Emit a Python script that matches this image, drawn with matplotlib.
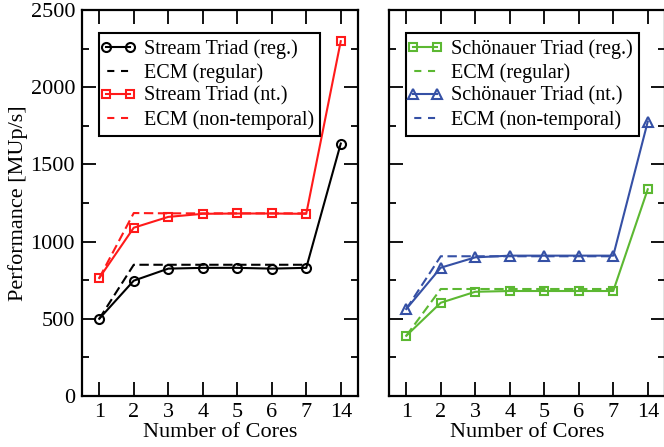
import numpy as np
import matplotlib
matplotlib.use("Agg")
import matplotlib.pyplot as plt
from matplotlib.lines import Line2D
from matplotlib.legend_handler import HandlerLine2D
from matplotlib.ticker import MultipleLocator

plt.rcParams['font.family'] = ['Liberation Serif', 'DejaVu Serif']
plt.rcParams['font.size'] = 16

# data
cores = ['1', '2', '3', '4', '5', '6', '7', '14']

stream_reg = [500, 747, 825, 830, 830, 825, 830, 1635]
ecm_stream_reg = [500, 850, 850, 850, 850, 850, 850]
stream_nt = [764, 1090, 1160, 1180, 1182, 1182, 1180, 2298]
ecm_stream_nt = [764, 1185, 1183, 1183, 1183, 1183, 1183]

schoen_reg = [390, 604, 675, 680, 680, 680, 680, 1339]
ecm_schoen_reg = [390, 693, 693, 693, 693, 693, 693]
schoen_nt = [563, 831, 898, 909, 909, 909, 909, 1777]
ecm_schoen_nt = [563, 905, 905, 905, 905, 905, 905]

red = '#ff1a1a'
green = '#5cb832'
blue = '#3550a5'
dash = (4.5, 2.2)
leg_ls = (6.0, (3.4, 3.2))   # two short dashes in the legend

W, H = 664, 447
fig = plt.figure(figsize=(W / 100, H / 100), dpi=100)
ax1 = fig.add_axes([82 / W, 1 - 396 / H, 276 / W, 386 / H])
ax2 = fig.add_axes([389 / W, 1 - 396 / H, 276 / W, 386 / H])

xs = np.arange(len(cores))
xe = np.arange(len(ecm_stream_reg))

h1 = ax1.plot(xs, stream_reg, '-o', color='black', lw=1.5, ms=6.5, mfc='none', mew=1.5)[0]
ax1.plot(xe, ecm_stream_reg, '--', color='black', lw=1.5, dashes=dash)
h3 = ax1.plot(xs, stream_nt, '-s', color=red, lw=1.5, ms=5.5, mfc='none', mew=1.5)[0]
ax1.plot(xe, ecm_stream_nt, '--', color=red, lw=1.5, dashes=dash)

g1 = ax2.plot(xs, schoen_reg, '-s', color=green, lw=1.5, ms=5.5, mfc='none', mew=1.5)[0]
ax2.plot(xe, ecm_schoen_reg, '--', color=green, lw=1.5, dashes=dash)
g3 = ax2.plot(xs, schoen_nt, '-^', color=blue, lw=1.5, ms=6.5, mfc='none', mew=1.5)[0]
ax2.plot(xe, ecm_schoen_nt, '--', color=blue, lw=1.5, dashes=dash)

legs = [
    (ax1, [h1, Line2D([], [], color='black', lw=1.5, ls=leg_ls),
           h3, Line2D([], [], color=red, lw=1.5, ls=leg_ls)],
     ['Stream Triad (reg.)', 'ECM (regular)', 'Stream Triad (nt.)', 'ECM (non-temporal)']),
    (ax2, [g1, Line2D([], [], color=green, lw=1.5, ls=leg_ls),
           g3, Line2D([], [], color=blue, lw=1.5, ls=leg_ls)],
     ['Schönauer Triad (reg.)', 'ECM (regular)', 'Schönauer Triad (nt.)', 'ECM (non-temporal)']),
]

for ax, handles, labels in legs:
    ax.set_xlim(-0.5, len(cores) - 0.5)
    ax.set_ylim(0, 2500)
    ax.set_xticks(xs)
    ax.set_xticklabels(cores)
    ax.yaxis.set_major_locator(MultipleLocator(500))
    ax.yaxis.set_minor_locator(MultipleLocator(250))
    ax.tick_params(which='both', direction='in', top=True, right=True, width=1.3,
                   labelsize=16, pad=5)
    ax.tick_params(which='major', length=10)
    ax.tick_params(which='minor', length=5)
    for s in ax.spines.values():
        s.set_linewidth(1.6)
    ax.set_xlabel('Number of Cores', fontsize=16, labelpad=1)
    leg = ax.legend(handles, labels, loc='upper left', bbox_to_anchor=(0.06, 0.94),
                    fontsize=14.5, handlelength=1.3, handletextpad=0.65,
                    labelspacing=0.2, borderpad=0.3, fancybox=False, framealpha=1,
                    numpoints=2, borderaxespad=0,
                    handler_map={Line2D: HandlerLine2D(marker_pad=0.05)})
    leg.get_frame().set_edgecolor('black')
    leg.get_frame().set_linewidth(1.5)

ax1.set_ylabel('Performance [MUp/s]', fontsize=16, labelpad=2)
ax2.set_yticklabels([])

fig.savefig('out.png', dpi=100)
